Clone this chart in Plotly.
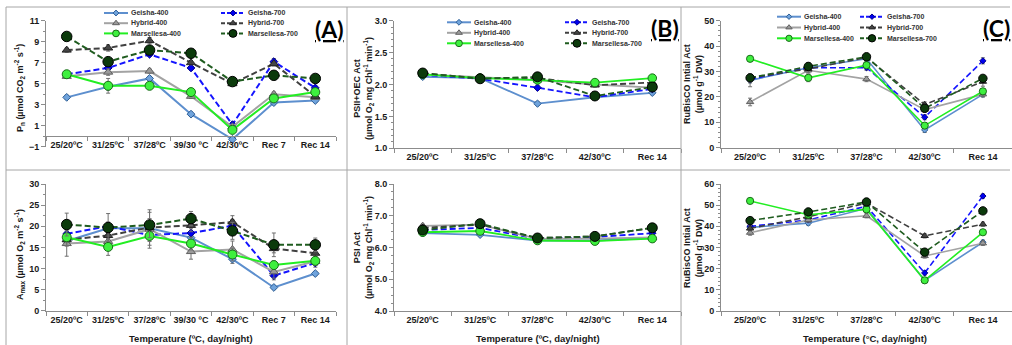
import plotly.graph_objects as go

W, H = 1012, 345
FONT = "Arial"

# ---------------- data ----------------
series = ["Geisha-400", "Geisha-700", "Hybrid-400", "Hybrid-700", "Marsellesa-400", "Marsellesa-700"]

cats7 = ["25/20ºC", "31/25ºC", "37/28ºC", "39/30 ºC", "42/30ºC", "Rec 7", "Rec 14"]
cats5 = ["25/20ºC", "31/25ºC", "37/28ºC", "42/30ºC", "Rec 14"]

# (A) top: Pn
pn = {
    "Geisha-400":     [3.7, 4.7, 5.5, 2.1, -0.3, 3.2, 3.4],
    "Geisha-700":     [5.9, 6.5, 7.8, 6.5, 1.1, 7.1, 4.6],
    "Hybrid-400":     [5.7, 6.1, 6.2, 3.8, 0.9, 4.0, 3.7],
    "Hybrid-700":     [8.2, 8.4, 9.1, 7.0, 5.0, 6.9, 3.8],
    "Marsellesa-400": [5.9, 4.8, 4.8, 4.2, 0.6, 3.6, 4.2],
    "Marsellesa-700": [9.5, 7.1, 8.2, 7.9, 5.2, 5.8, 5.5],
}
pn_err = {
    "Geisha-400":     [0.2, 0.3, 0.2, 0.2, 0.2, 0.2, 0.2],
    "Geisha-700":     [0.2, 0.3, 0.2, 0.2, 0.2, 0.3, 0.2],
    "Hybrid-400":     [0.2, 0.3, 0.2, 0.2, 0.2, 0.2, 0.2],
    "Hybrid-700":     [0.2, 0.3, 0.3, 0.2, 0.2, 0.2, 0.2],
    "Marsellesa-400": [0.2, 0.7, 0.2, 0.2, 0.2, 0.2, 0.2],
    "Marsellesa-700": [0.2, 0.3, 0.2, 0.2, 0.2, 0.2, 0.2],
}

# (A) bottom: Amax
amax = {
    "Geisha-400":     [16.5, 19.5, 19.5, 17.3, 12.2, 5.5, 8.8],
    "Geisha-700":     [18.2, 20.0, 17.9, 18.4, 20.1, 8.3, 11.3],
    "Hybrid-400":     [15.9, 16.4, 19.3, 14.0, 14.5, 9.2, 11.7],
    "Hybrid-700":     [16.8, 17.8, 19.7, 20.2, 21.0, 14.7, 13.6],
    "Marsellesa-400": [17.4, 15.1, 17.7, 15.9, 13.3, 10.8, 11.8],
    "Marsellesa-700": [20.4, 19.7, 20.3, 21.8, 18.9, 15.6, 15.6],
}
amax_err = {
    "Geisha-400":     [1.0, 1.0, 1.5, 1.0, 1.0, 0.5, 0.5],
    "Geisha-700":     [1.0, 1.0, 1.5, 1.0, 1.5, 1.0, 1.0],
    "Hybrid-400":     [3.0, 1.5, 2.5, 1.8, 2.0, 1.5, 1.0],
    "Hybrid-700":     [1.5, 2.0, 4.2, 1.5, 1.5, 1.0, 1.0],
    "Marsellesa-400": [2.0, 2.0, 2.9, 1.5, 1.5, 1.0, 1.0],
    "Marsellesa-700": [2.7, 3.3, 3.0, 1.7, 2.0, 2.8, 1.6],
}

# (B) top: PSII+OEC activity
psii = {
    "Geisha-400":     [2.12, 2.10, 1.70, 1.80, 1.87],
    "Geisha-700":     [2.15, 2.09, 1.95, 1.80, 1.93],
    "Hybrid-400":     [2.16, 2.12, 2.07, 2.00, 1.95],
    "Hybrid-700":     [2.17, 2.10, 2.10, 1.99, 2.03],
    "Marsellesa-400": [2.16, 2.10, 2.07, 2.03, 2.10],
    "Marsellesa-700": [2.18, 2.09, 2.12, 1.82, 1.96],
}
psii_err = {s: [0.03, 0.03, 0.03, 0.03, 0.03] for s in series}

# (B) bottom: PSI activity
psi = {
    "Geisha-400":     [6.45, 6.40, 6.22, 6.22, 6.30],
    "Geisha-700":     [6.55, 6.62, 6.27, 6.33, 6.45],
    "Hybrid-400":     [6.68, 6.72, 6.27, 6.28, 6.32],
    "Hybrid-700":     [6.62, 6.72, 6.30, 6.35, 6.62],
    "Marsellesa-400": [6.48, 6.52, 6.22, 6.20, 6.28],
    "Marsellesa-700": [6.55, 6.75, 6.30, 6.35, 6.62],
}
psi_err = {s: [0.05, 0.05, 0.04, 0.04, 0.05] for s in series}

# (C) top: RuBisCO initial activity
rub_top = {
    "Geisha-400":     [26.5, 31.5, 35.0, 7.0, 21.0],
    "Geisha-700":     [27.0, 31.5, 31.5, 12.0, 34.2],
    "Hybrid-400":     [18.0, 30.5, 27.0, 15.0, 21.0],
    "Hybrid-700":     [27.5, 31.0, 35.5, 17.0, 26.0],
    "Marsellesa-400": [35.0, 27.5, 32.5, 8.7, 22.2],
    "Marsellesa-700": [27.5, 32.0, 35.8, 15.5, 27.3],
}
rub_top_err = {
    "Geisha-400":     [2.5, 1.0, 1.0, 1.0, 1.0],
    "Geisha-700":     [1.5, 1.0, 1.0, 1.0, 1.2],
    "Hybrid-400":     [1.5, 1.0, 1.0, 1.0, 1.0],
    "Hybrid-700":     [1.5, 1.5, 1.0, 1.0, 1.8],
    "Marsellesa-400": [1.0, 1.5, 1.0, 1.0, 1.0],
    "Marsellesa-700": [1.0, 1.5, 1.0, 1.0, 1.0],
}

# (C) bottom: RuBisCO initial activity
rub_bot = {
    "Geisha-400":     [39.5, 41.5, 48.5, 14.5, 32.5],
    "Geisha-700":     [40.0, 43.0, 49.5, 18.0, 54.3],
    "Hybrid-400":     [37.0, 43.0, 45.0, 26.0, 32.0],
    "Hybrid-700":     [39.0, 44.5, 51.0, 35.5, 41.0],
    "Marsellesa-400": [52.0, 45.5, 48.0, 14.5, 37.2],
    "Marsellesa-700": [42.7, 46.8, 51.5, 27.8, 47.3],
}
rub_bot_err = {s: [1.2, 1.0, 1.0, 1.0, 1.0] for s in series}

# ---------------- styles ----------------
STYLE = {
    "Geisha-400":     dict(color="#5d8fce", dash="solid", symbol="diamond", size=6, fill="#6fa3dc", edge="#2f5f96"),
    "Geisha-700":     dict(color="#1414ff", dash="6px,3px", symbol="diamond", size=6, fill="#0000ee", edge="#00008b"),
    "Hybrid-400":     dict(color="#a3a3a3", dash="solid", symbol="triangle-up", size=8, fill="#9a9a9a", edge="#606060"),
    "Hybrid-700":     dict(color="#404040", dash="6px,3px", symbol="triangle-up", size=8, fill="#454545", edge="#222222"),
    "Marsellesa-400": dict(color="#22ee22", dash="solid", symbol="circle", size=9, fill="#3ef03e", edge="#1a6b1a"),
    "Marsellesa-700": dict(color="#1f5c1f", dash="6px,3px", symbol="circle", size=10.5, fill="#0b3a0b", edge="#000000"),
}

panels = [
    dict(cats=cats7, vals=pn, errs=pn_err, px=(46, 336), py=(20.7, 146.7), yr=(-1, 11), tick0=-1, dtick=2, minor=1, fmt="d", cross=0, msc=1.0, lw=2.0),
    dict(cats=cats7, vals=amax, errs=amax_err, px=(46, 336), py=(184, 310.7), yr=(0, 30), tick0=0, dtick=5, minor=2.5, fmt="d", cross=None, msc=1.0, lw=2.0),
    dict(cats=cats5, vals=psii, errs=psii_err, px=(394, 681), py=(20.7, 148.3), yr=(1, 3), tick0=1, dtick=0.5, minor=0.1, fmt=".1f", cross=None, msc=0.95, lw=1.8),
    dict(cats=cats5, vals=psi, errs=psi_err, px=(394, 681), py=(184, 311), yr=(4, 8), tick0=4, dtick=1, minor=0.25, fmt=".1f", cross=None, msc=0.95, lw=1.8),
    dict(cats=cats5, vals=rub_top, errs=rub_top_err, px=(721, 1012), py=(20.7, 147.7), yr=(0, 50), tick0=0, dtick=10, minor=2, fmt="d", cross=None, msc=0.8, lw=1.6),
    dict(cats=cats5, vals=rub_bot, errs=rub_bot_err, px=(721, 1012), py=(184, 311), yr=(0, 60), tick0=0, dtick=10, minor=2, fmt="d", cross=None, msc=0.8, lw=1.6),
]

fig = go.Figure()
layout = {}
AX = "#8c8c8c"
TXT = "#1a1a1a"

for i, p in enumerate(panels, start=1):
    xs = "" if i == 1 else str(i)
    xd = [p["px"][0] / W, p["px"][1] / W]
    yd = [1 - p["py"][1] / H, 1 - p["py"][0] / H]
    for s in series:
        st = STYLE[s]
        fig.add_trace(go.Scatter(
            x=p["cats"], y=p["vals"][s], name=s, mode="lines+markers",
            xaxis="x" + xs, yaxis="y" + xs, showlegend=False, cliponaxis=False,
            line=dict(color=st["color"], width=p["lw"], dash=st["dash"]),
            marker=dict(symbol=st["symbol"], size=st["size"] * p["msc"], color=st["fill"],
                        line=dict(color=st["edge"], width=1)),
            error_y=dict(type="data", array=p["errs"][s], color="#707070", thickness=1, width=2),
        ))
    xa = dict(domain=xd, range=[-0.5, len(p["cats"]) - 0.5], type="category",
              showline=True, linecolor=AX, linewidth=1, ticks="outside", ticklen=4, tickcolor=AX,
              tickson="boundaries", showgrid=False, zeroline=False, tickangle=0, automargin=False,
              tickfont=dict(family=FONT, size=9, color=TXT, weight="bold"), fixedrange=True)
    if p["cross"] is not None:
        frac = (p["cross"] - p["yr"][0]) / (p["yr"][1] - p["yr"][0])
        xa.update(anchor="free", position=yd[0] + frac * (yd[1] - yd[0]))
    else:
        xa.update(anchor="y" + xs)
    ya = dict(domain=yd, range=list(p["yr"]), anchor="x" + xs, showline=True, linecolor=AX, linewidth=1,
              ticks="outside", ticklen=4, tickcolor=AX, tick0=p["tick0"], dtick=p["dtick"],
              tickformat=p["fmt"], showgrid=False, zeroline=False, automargin=False,
              minor=dict(ticks="outside", ticklen=2, tickcolor=AX, dtick=p["minor"], showgrid=False),
              tickfont=dict(family=FONT, size=9, color=TXT, weight="bold"), fixedrange=True)
    layout["xaxis" + xs] = xa
    layout["yaxis" + xs] = ya

# ---------------- hand-built legends (pixel overlay axis) ----------------
layout["xaxis7"] = dict(domain=[0, 1], range=[0, W], visible=False, anchor="y7", fixedrange=True)
layout["yaxis7"] = dict(domain=[0, 1], range=[H, 0], visible=False, anchor="x7", fixedrange=True)

legends = [  # col1 x, col2 x, first row y, row step, marker scale
    (104, 221, 13.0, 10.2, 0.75),
    (447, 565, 22.3, 10.5, 0.75),
    (777, 860, 16.7, 10.8, 0.7),
]
annotations = []
for (c1, c2, y0, dy, ms) in legends:
    for k, s in enumerate(series):
        st = STYLE[s]
        col = k % 2
        row = k // 2
        lx = c1 if col == 0 else c2
        ly = y0 + row * dy
        fig.add_trace(go.Scatter(
            x=[lx, lx + 24], y=[ly, ly], mode="lines", xaxis="x7", yaxis="y7",
            showlegend=False, hoverinfo="skip", cliponaxis=False,
            line=dict(color=st["color"], width=2, dash="4px,2px" if st["dash"] != "solid" else "solid")))
        fig.add_trace(go.Scatter(
            x=[lx + 12], y=[ly], mode="markers", xaxis="x7", yaxis="y7",
            showlegend=False, hoverinfo="skip", cliponaxis=False,
            marker=dict(symbol=st["symbol"], size=st["size"] * ms, color=st["fill"],
                        line=dict(color=st["edge"], width=1))))
        annotations.append(dict(text=s, xref="paper", yref="paper", x=(lx + 25) / W, y=1 - ly / H,
                                xanchor="left", yanchor="middle", showarrow=False,
                                font=dict(family=FONT, size=7, color="#333333", weight="bold")))

# ---------------- axis titles ----------------
ytitles = [
    ("P<sub>n</sub> (µmol CO<sub>2</sub> m<sup>-2</sup> s<sup>-1</sup>)", 20, 88),
    ("A<sub>max</sub> (µmol O<sub>2</sub> m<sup>-2</sup> s<sup>-1</sup>)", 20, 255),
    ("PSII+OEC Act<br>(µmol O<sub>2</sub> mg Chl<sup>-1</sup> min<sup>-1</sup>)", 363, 89),
    ("PSI Act<br>(µmol O<sub>2</sub> mg Chl<sup>-1</sup> min<sup>-1</sup>)", 363, 248),
    ("RuBisCO Intial Act<br>(µmol g<sup>-1</sup> DW)", 693, 84),
    ("RuBisCO Intial Act<br>(µmol g<sup>-1</sup> DW)", 693, 248),
]
for t, x, y in ytitles:
    annotations.append(dict(text=t, xref="paper", yref="paper", x=x / W, y=1 - y / H, textangle=-90,
                            xanchor="center", yanchor="middle", showarrow=False,
                            font=dict(family=FONT, size=9, color=TXT, weight="bold")))

xtitles = [("Temperature (ºC, day/night)", 191), ("Temperature (ºC, day/night)", 538),
           ("Temperature (°C, day/night)", 865)]
for t, x in xtitles:
    annotations.append(dict(text=t, xref="paper", yref="paper", x=x / W, y=1 - 338 / H,
                            xanchor="center", yanchor="middle", showarrow=False,
                            font=dict(family=FONT, size=9.5, color=TXT, weight="bold")))

for lab, x, y in [("(A)", 329, 29), ("(B)", 665, 28), ("(C)", 996, 28)]:
    annotations.append(dict(text="<u>" + lab + "</u>", xref="paper", yref="paper", x=x / W, y=1 - y / H,
                            xanchor="center", yanchor="middle", showarrow=False,
                            font=dict(family="Lato", size=23, color="#000000", weight="bold")))

# ---------------- panel frame lines ----------------
FR = "#a6a6a6"
frame = [(6, 7, 1010, 7), (6, 7, 6, 345), (6, 170, 1010, 170), (347, 7, 347, 345), (681, 7, 681, 345)]
shapes = [dict(type="line", xref="paper", yref="paper", x0=a / W, y0=1 - b / H, x1=c / W, y1=1 - d / H,
               line=dict(color=FR, width=1)) for a, b, c, d in frame]

fig.update_layout(
    width=W, height=H, margin=dict(l=0, r=0, t=0, b=0),
    paper_bgcolor="white", plot_bgcolor="rgba(0,0,0,0)",
    showlegend=False, annotations=annotations, shapes=shapes,
    font=dict(family=FONT),
    **layout,
)

fig.write_html("out.html", config={"displayModeBar": False},
               post_script="document.body.style.margin='0';document.body.style.overflow='hidden';")
